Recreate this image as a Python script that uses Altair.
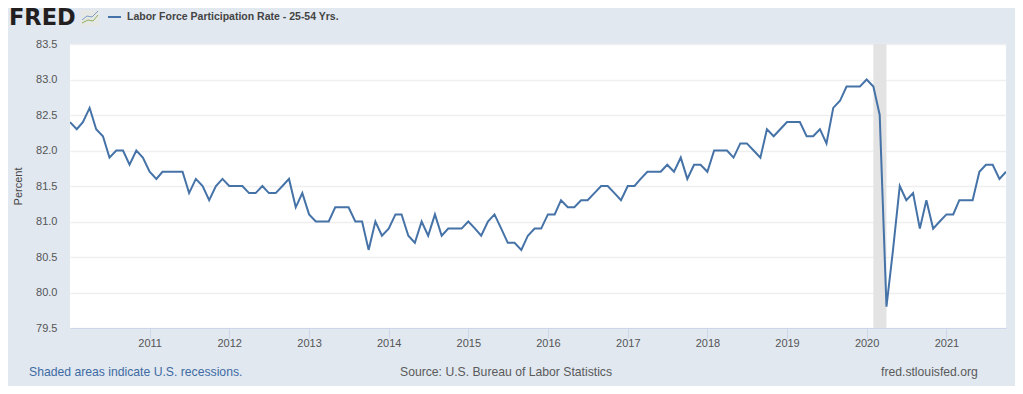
import altair as alt
import pandas as pd

FONT = "Liberation Sans"

values_2010 = [82.4,82.3,82.4,82.6,82.3,82.2,81.9,82.0,82.0,81.8,82.0,81.9]
values_2011 = [81.7,81.6,81.7,81.7,81.7,81.7,81.4,81.6,81.5,81.3,81.5,81.6]
values_2012 = [81.5,81.5,81.5,81.4,81.4,81.5,81.4,81.4,81.5,81.6,81.2,81.4]
values_2013 = [81.1,81.0,81.0,81.0,81.2,81.2,81.2,81.0,81.0,80.6,81.0,80.8]
values_2014 = [80.9,81.1,81.1,80.8,80.7,81.0,80.8,81.1,80.8,80.9,80.9,80.9]
values_2015 = [81.0,80.9,80.8,81.0,81.1,80.9,80.7,80.7,80.6,80.8,80.9,80.9]
values_2016 = [81.1,81.1,81.3,81.2,81.2,81.3,81.3,81.4,81.5,81.5,81.4,81.3]
values_2017 = [81.5,81.5,81.6,81.7,81.7,81.7,81.8,81.7,81.9,81.6,81.8,81.8]
values_2018 = [81.7,82.0,82.0,82.0,81.9,82.1,82.1,82.0,81.9,82.3,82.2,82.3]
values_2019 = [82.4,82.4,82.4,82.2,82.2,82.3,82.1,82.6,82.7,82.9,82.9,82.9]
values_2020 = [83.0,82.9,82.5,79.8,80.6,81.5,81.3,81.4,80.9,81.3,80.9,81.0]
values_2021 = [81.1,81.1,81.3,81.3,81.3,81.7,81.8,81.8,81.6,81.7]

rate = (values_2010 + values_2011 + values_2012 + values_2013 + values_2014 + values_2015
        + values_2016 + values_2017 + values_2018 + values_2019 + values_2020 + values_2021)
dates = pd.date_range("2010-01-01", periods=len(rate), freq="MS").strftime("%Y-%m-%d").tolist()

year_ticks = [f"{y}-01-01" for y in range(2011, 2022)]
y_ticks = [79.5, 80.0, 80.5, 81.0, 81.5, 82.0, 82.5, 83.0, 83.5]
recession = {"start": ["2020-02-01"], "end": ["2020-04-01"]}

df = pd.DataFrame({"date": dates, "rate": rate})

x_scale = alt.Scale(domain=["2010-01-01", "2021-10-01"], nice=False)
y_scale = alt.Scale(domain=[79.5, 83.5], nice=False, zero=False)

band = alt.Chart(pd.DataFrame(recession)).mark_rect(color="#e3e3e3").encode(
    x=alt.X("start:T", scale=x_scale, axis=alt.Axis(
        title=None, values=year_ticks, format="%Y", grid=False,
        domainColor="#ccd6eb", tickColor="#ccd6eb", tickSize=10, labelPadding=-1,
        labelColor="#555555", labelFont=FONT, labelFontSize=11, labelFlush=False)),
    x2="end:T",
)

line = alt.Chart(df).mark_line(color="#4572a7", strokeWidth=2, clip=True).encode(
    x=alt.X("date:T", scale=x_scale),
    y=alt.Y("rate:Q", scale=y_scale, axis=alt.Axis(
        title="Percent", values=y_ticks, format=".1f", domain=False, ticks=False,
        gridColor="#efefef", gridWidth=1.5, labelColor="#555555", labelFont=FONT,
        labelFontSize=11, labelPadding=13, titleFont=FONT, titleFontSize=11,
        titleFontWeight="normal", titleColor="#444444", titlePadding=12)),
)


def label(text, x, y, font=FONT, **kw):
    return alt.Chart(pd.DataFrame({"t": [text]})).mark_text(
        font=font, baseline="middle", **kw
    ).encode(text="t:N", x=alt.value(x), y=alt.value(y))


def seg(x1, y1, x2, y2, color, width=1.0):
    return alt.Chart(pd.DataFrame({"a": [0]})).mark_rule(color=color, strokeWidth=width).encode(
        x=alt.value(x1), x2=alt.value(x2), y=alt.value(y1), y2=alt.value(y2))


decor = [
    label("FRED", 9 - 70, 18 - 44, font="DejaVu Sans", align="left", fontSize=22.5,
          fontWeight="bold", color="#231f20"),
    alt.Chart(pd.DataFrame({"a": [0]})).mark_rect(color="#e6e8e6").encode(
        x=alt.value(81 - 70), x2=alt.value(99 - 70), y=alt.value(10 - 44), y2=alt.value(26 - 44)),
    seg(82 - 70, 20 - 44, 87 - 70, 16 - 44, "#7b9cc4"),
    seg(87 - 70, 16 - 44, 92 - 70, 17 - 44, "#7b9cc4"),
    seg(92 - 70, 17 - 44, 98 - 70, 11 - 44, "#7b9cc4"),
    seg(82 - 70, 23 - 44, 88 - 70, 20 - 44, "#8fae5a"),
    seg(88 - 70, 20 - 44, 93 - 70, 21 - 44, "#8fae5a"),
    seg(93 - 70, 21 - 44, 98 - 70, 15 - 44, "#8fae5a"),
    seg(108 - 70, 17 - 44, 121 - 70, 17 - 44, "#4572a7", 2),
    label("Labor Force Participation Rate - 25-54 Yrs.", 127 - 70, 17 - 44, align="left",
          fontSize=10.5, fontWeight="bold", color="#444444"),
    label("Shaded areas indicate U.S. recessions.", 29 - 70, 372 - 44, align="left",
          fontSize=12.2, color="#3e6ba3"),
    label("Source: U.S. Bureau of Labor Statistics", 400 - 70, 372 - 44, align="left",
          fontSize=12.2, color="#5a5a5a"),
    label("fred.stlouisfed.org", 881 - 70, 372 - 44, align="left", fontSize=12.2, color="#5a5a5a"),
]

chart = alt.layer(band, line, *decor).resolve_scale(x="shared").properties(
    width=936, height=284,
    background="#e1e8f0",
    padding={"left": 62, "top": 36, "right": 9, "bottom": 58},
    autosize=alt.AutoSizeParams(type="none"),
).configure_view(fill="#ffffff", stroke=None)

chart.save("out.html", embed_options={"renderer": "svg", "actions": False})
